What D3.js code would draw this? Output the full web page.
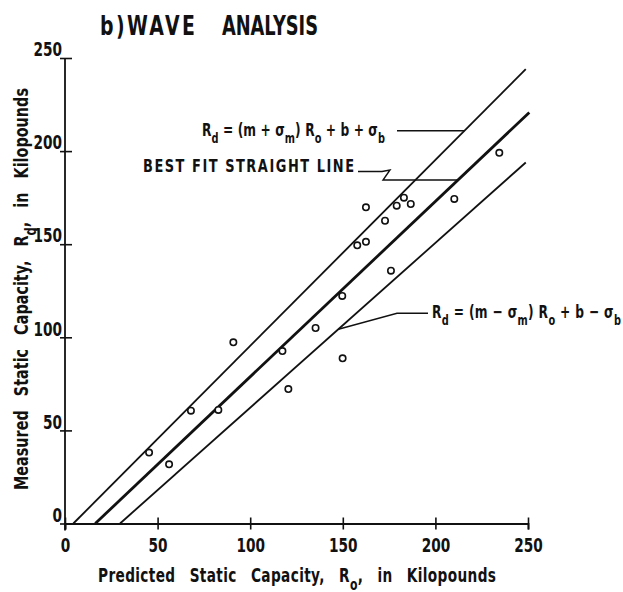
<!DOCTYPE html>
<html>
<head>
<meta charset="utf-8">
<script src="https://cdn.jsdelivr.net/npm/d3@7"></script>
<style>
  body { margin: 0; background: #fff; }
  text { font-family: "DejaVu Sans", sans-serif; font-weight: bold; fill: #111; }
</style>
</head>
<body>
<svg id="chart" width="623" height="592"></svg>
<script>
// measured vs predicted capacity, kips
const predicted = [45.4, 56.2, 68.0, 82.8, 90.9, 117.4, 120.6, 135.3, 149.7, 149.9,
                   157.8, 162.5, 162.5, 172.8, 176.0, 179.1, 183.0, 186.7, 210.2, 234.5];
const measured  = [38.1, 31.8, 60.6, 61.0, 97.3, 92.6, 72.2, 105.0, 122.2, 88.7,
                   149.4, 151.3, 169.8, 162.6, 135.8, 170.7, 175.0, 171.6, 174.3, 199.1];

// fitted line and its spread
const fitSlope = 0.942, slopeDev = 0.057;
const fitIntercept = -15.4, interceptDev = 10.9;
const lineEndX = [248.8, 250.7, 248.8];   // upper, best fit, lower

const xTicks = [0, 50, 100, 150, 200, 250];
const yTicks = [0, 50, 100, 150, 200, 250];

const SX = 0.72;   // squeeze letters to look like the lettering-guide font

const svg = d3.select('#chart');

const x = d3.scaleLinear().domain([0, 250]).range([65, 528]);
const y = d3.scaleLinear().domain([0, 250]).range([523.5, 58]);

const lines = [
  {m: fitSlope + slopeDev, b: fitIntercept + interceptDev, end: lineEndX[0], w: 1.8},
  {m: fitSlope,            b: fitIntercept,                end: lineEndX[1], w: 2.8},
  {m: fitSlope - slopeDev, b: fitIntercept - interceptDev, end: lineEndX[2], w: 1.8}
];
const lineY = (l, v) => l.m * v + l.b;

// axes
const xAxis = svg.append('g')
    .attr('transform', `translate(0,${y(0)})`)
    .call(d3.axisBottom(x).tickValues(xTicks).tickSizeOuter(0).tickSize(6).tickPadding(9));
xAxis.selectAll('.tick line').attr('y1', -6).attr('y2', 6);

const yAxis = svg.append('g')
    .attr('transform', `translate(${x(0)},0)`)
    .call(d3.axisLeft(y).tickValues(yTicks).tickSizeOuter(0).tickSize(5).tickPadding(-2));
yAxis.selectAll('.tick line').attr('x1', -5).attr('x2', 7);
yAxis.selectAll('.tick text').attr('dy', '-0.12em');

svg.selectAll('.domain').attr('stroke', '#111').attr('stroke-width', 1.8);
svg.selectAll('.tick line').attr('stroke', '#111').attr('stroke-width', 1.6);
svg.selectAll('.tick text')
    .attr('font-family', null)
    .attr('font-size', 19)
    .attr('fill', '#111')
    .attr('x', function() { return (+d3.select(this).attr('x') || 0) / SX; })
    .attr('transform', `scale(${SX},1)`);
yAxis.select('.domain').attr('d', `M0,${y(250)}V${y(0) + 7}`);

// fit lines
svg.append('g').selectAll('line')
  .data(lines)
  .join('line')
    .attr('x1', d => x(-d.b / d.m))
    .attr('y1', y(0))
    .attr('x2', d => x(d.end))
    .attr('y2', d => y(lineY(d, d.end)))
    .attr('stroke', '#111')
    .attr('stroke-width', d => d.w);

// data points
svg.append('g').selectAll('circle')
  .data(predicted)
  .join('circle')
    .attr('cx', d => x(d))
    .attr('cy', (d, i) => y(measured[i]))
    .attr('r', 3.2)
    .attr('fill', '#fff')
    .attr('stroke', '#111')
    .attr('stroke-width', 1.6);

// squeezed text, optional subscripts: parts = [[string, isSub], ...]
function label(parts, px, py, size, len, sx, rot, wordGap) {
  const t = svg.append('text')
      .attr('font-size', size)
      .attr('transform', `translate(${px},${py})` + (rot ? ` rotate(${rot})` : '') + ` scale(${sx},1)`)
      .attr('textLength', len / sx)
      .attr('lengthAdjust', 'spacing');
  if (wordGap) t.style('word-spacing', (wordGap / sx) + 'px');
  let down = false;
  parts.forEach(p => {
    const sub = p[1];
    const ts = t.append('tspan').text(p[0]);
    if (sub) ts.attr('font-size', size * 0.8);
    if (sub && !down) { ts.attr('dy', size * 0.4); down = true; }
    else if (!sub && down) { ts.attr('dy', -size * 0.4); down = false; }
  });
  return t;
}

// title
label([['b)WAVE', 0]], 100, 35, 27, 95, 0.7);
label([['ANALYSIS', 0]], 222, 35, 27, 96, 0.66);

// axis titles
label([['Predicted Static Capacity, R', 0], ['o', 1], [', in Kilopounds', 0]], 98, 582, 19, 398, SX, 0, 9);
label([['Measured Static Capacity, R', 0], ['d', 1], [', in Kilopounds', 0]], 28, 490, 20, 402, SX, -90, 9);

// annotations
label([['R', 0], ['d', 1], [' = (m + σ', 0], ['m', 1], [') R', 0], ['o', 1], [' + b + σ', 0], ['b', 1]],
    202, 136, 18, 183, 0.68);
label([['R', 0], ['d', 1], [' = (m − σ', 0], ['m', 1], [') R', 0], ['o', 1], [' + b − σ', 0], ['b', 1]],
    432, 318, 18, 189, 0.68);
label([['BEST FIT STRAIGHT LINE', 0]], 143, 171.5, 18, 211, SX);

// leaders
const upLeadY = 130.7;
const upV = y.invert(upLeadY);
const midLeadY = 180;
const midV = y.invert(midLeadY);
const lowX = 147.6;
const leaders = [
  [[397, upLeadY], [x((upV - lines[0].b) / lines[0].m), upLeadY]],
  [[358, 171.5], [382, 171.5], [390, 170], [383, midLeadY], [x((midV - lines[1].b) / lines[1].m), midLeadY]],
  [[428, 313.3], [397, 313.3], [x(lowX), y(lineY(lines[2], lowX))]]
];
svg.append('g').selectAll('path')
  .data(leaders)
  .join('path')
    .attr('d', d3.line())
    .attr('fill', 'none')
    .attr('stroke', '#111')
    .attr('stroke-width', 1.4);
</script>
</body>
</html>
